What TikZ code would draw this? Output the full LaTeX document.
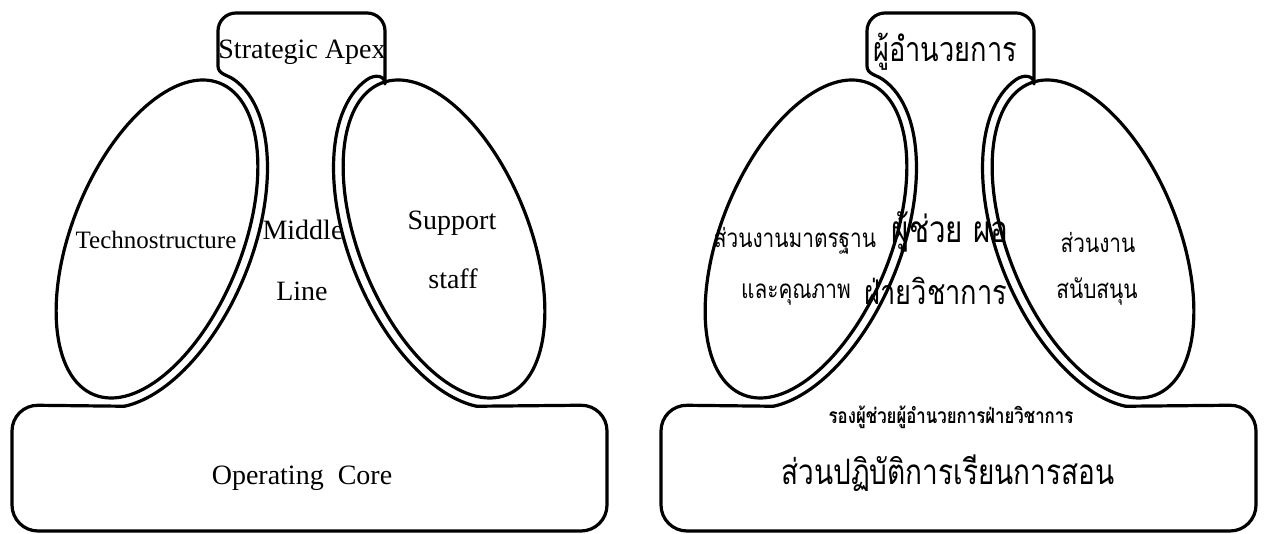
\documentclass[tikz,border=0pt]{standalone}
\usepackage{fontspec}
\setmainfont{Liberation Serif}
\newfontfamily\thaifont[Script=Thai, FakeStretch=0.8]{Loma}
\begin{document}
\begin{tikzpicture}[
    x=1pt, y=1pt,
    edgeline/.style={line width=3.2pt, line join=round, line cap=round},
    txt/.style={anchor=base, inner sep=0pt, font=\fontsize{28}{32}\selectfont},
    thaitxt/.style={anchor=base, inner sep=0pt, font=\thaifont\fontsize{#1}{#1}\selectfont},
    thaibold/.style={anchor=base, inner sep=0pt, font=\thaifont\bfseries\fontsize{#1}{#1}\selectfont}
]
\useasboundingbox (0,0) rectangle (1266,534);
\foreach \dx in {0,649} {
    \begin{scope}[xshift=\dx]
        \begin{scope}[shift={(157,295)}, rotate=-22]
            \draw[edgeline] (0,0) ellipse [x radius=85, y radius=168];
            \draw[edgeline] (83:95 and 178) coordinate (tl)
                arc[start angle=83, end angle=-70, x radius=95, y radius=178] coordinate (bl);
        \end{scope}
        \begin{scope}[shift={(444,295)}, rotate=22]
            \draw[edgeline] (0,0) ellipse [x radius=85, y radius=168];
            \draw[edgeline] (97:95 and 178) coordinate (tr)
                arc[start angle=97, end angle=250, x radius=95, y radius=178] coordinate (br);
        \end{scope}
        \draw[edgeline] (tl) to[out=145, in=-90] (218,468) [rounded corners=18]
            -- (218,521) -- (385,521) -- (385,468) [sharp corners] to[out=-90, in=35] (tr);
        \draw[edgeline] (bl) [rounded corners=26]
            -- (12,129) -- (12,3) -- (607,3) -- (607,129) -- (br);
    \end{scope}
}
\node[txt] (apex) at (302,475) {Strategic Apex};
\node[txt, font=\fontsize{25}{30}\selectfont] (techno) at (156,285) {Technostructure};
\node[txt] (middle) at (303,294) {Middle};
\node[txt] (line) at (302,233) {Line};
\node[txt] (support) at (452,304) {Support};
\node[txt] (staff) at (453,245) {staff};
\node[txt] (core) at (302,49) {Operating\ \ Core};
\node[thaitxt=34] (director) at (945,472) {ผู้อำนวยการ};
\node[thaitxt=26] (standard) at (795,286) {ส่วนงานมาตรฐาน};
\node[thaitxt=26] (quality) at (796,235) {และคุณภาพ};
\node[thaitxt=37] (assistant) at (950,291) {ผู้ช่วย ผอ};
\node[thaitxt=34] (academic) at (936,229) {ฝ่ายวิชาการ};
\node[thaitxt=26] (staffth) at (1098,281) {ส่วนงาน};
\node[thaitxt=26] (supportth) at (1097,235) {สนับสนุน};
\node[thaibold=21] (deputy) at (951,110) {รองผู้ช่วยผู้อำนวยการฝ่ายวิชาการ};
\node[thaitxt=35] (teaching) at (948,49) {ส่วนปฏิบัติการเรียนการสอน};
\end{tikzpicture}
\end{document}
